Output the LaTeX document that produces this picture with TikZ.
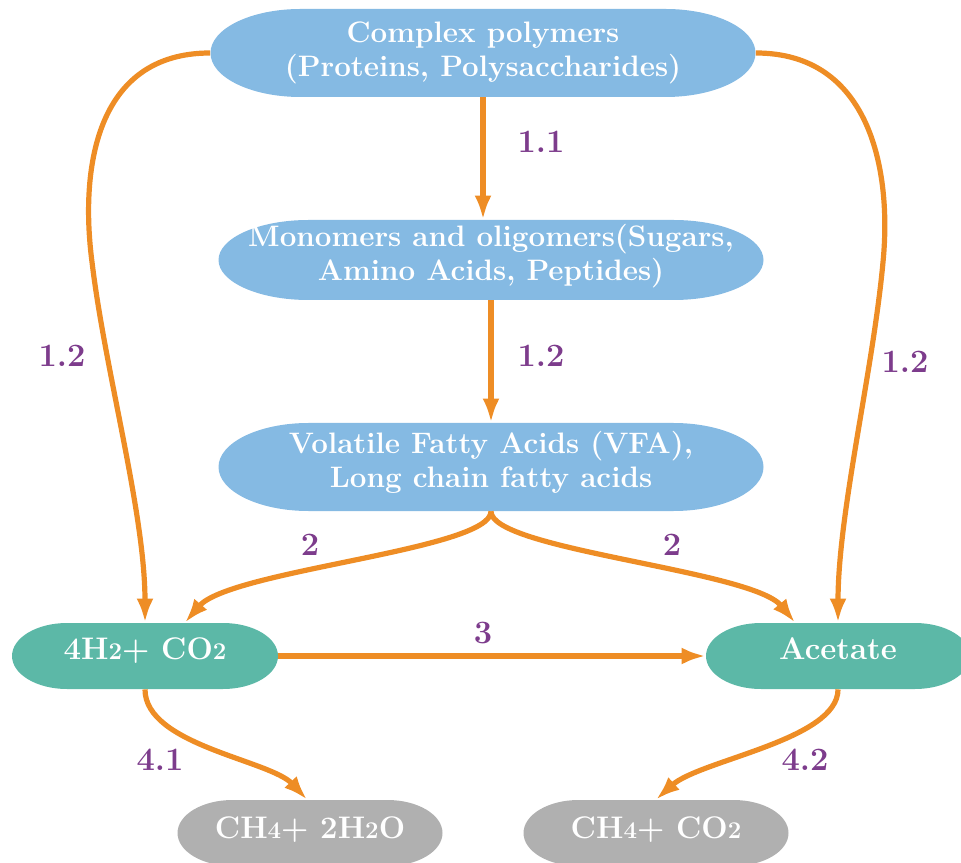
\documentclass[tikz,border=0pt]{standalone}
\usetikzlibrary{arrows.meta}
\definecolor{bluebox}{HTML}{85BAE3}
\definecolor{tealbox}{HTML}{5CB8A7}
\definecolor{greybox}{HTML}{B0B0B0}
\definecolor{arrowc}{HTML}{EE8D25}
\definecolor{labelc}{HTML}{7D3C8C}
\newcommand\pillshape[6]{%
  \fill[#6] (#1-#3+#5,#2-#4) -- (#1+#3-#5,#2-#4)
    arc[start angle=-90,end angle=90,x radius=#5,y radius=#4]
    -- (#1-#3+#5,#2+#4)
    arc[start angle=90,end angle=270,x radius=#5,y radius=#4] -- cycle;}
\newcommand\sm[1]{{\fontsize{12}{14}\selectfont #1}}
\newcommand\up[2]{\raisebox{#1}[\height][\depth]{\begin{tabular}{@{}c@{}}#2\end{tabular}}}
\begin{document}
\begin{tikzpicture}[x=0.5pt,y=0.5pt,
  boxtext/.style={rectangle,inner sep=0pt,align=center,text=white,
    font=\fontsize{14.8}{17.2}\selectfont\bfseries},
  smalltext/.style={boxtext,font=\fontsize{15.6}{18}\selectfont\bfseries},
  lbl/.style={text=labelc,font=\fontsize{16.3}{19}\selectfont\bfseries,inner sep=0pt},
  flow/.style={draw=arrowc,line width=2.6pt,-{Latex[length=12pt,width=8.5pt]}}]
\useasboundingbox (0,0) rectangle (961,862);
% shapes
\pillshape{483}{809}{272.5}{44}{90}{bluebox}
\pillshape{491}{602}{272.5}{40}{90}{bluebox}
\pillshape{491}{395}{272.5}{44}{90}{bluebox}
\pillshape{145}{206}{133}{33}{55}{tealbox}
\pillshape{838}{206}{132}{33}{55}{tealbox}
\pillshape{310}{29}{132.5}{33}{55}{greybox}
\pillshape{656}{29}{132.5}{33}{55}{greybox}
% nodes
\node[boxtext,minimum width=272.5pt,minimum height=44pt] (top) at (483,809)
  {\up{0.3pt}{Complex polymers\\(Proteins, Polysaccharides)}};
\node[boxtext,minimum width=272.5pt,minimum height=40pt] (mono) at (491,602)
  {\up{1.8pt}{Monomers and oligomers(Sugars,\\Amino Acids, Peptides)}};
\node[boxtext,minimum width=272.5pt,minimum height=44pt] (vfa) at (491,395)
  {\up{1.8pt}{Volatile Fatty Acids (VFA),\\Long chain fatty acids}};
\node[smalltext,minimum width=133pt,minimum height=33pt] (h2) at (145,206)
  {\up{2pt}{4H\sm{2}+ CO\sm{2}}};
\node[smalltext,minimum width=132pt,minimum height=33pt] (acet) at (838,206)
  {\up{2pt}{Acetate}};
\node[smalltext,minimum width=132.5pt,minimum height=33pt] (ch4a) at (310,29)
  {\up{1pt}{CH\sm{4}+ 2H\sm{2}O}};
\node[smalltext,minimum width=132.5pt,minimum height=33pt] (ch4b) at (656,29)
  {\up{1pt}{CH\sm{4}+ CO\sm{2}}};
% labels
\node[lbl] (l11) at (541,720) {1.1};
\node[lbl] (l12c) at (541,506) {1.2};
\node[lbl] (l12l) at (62,506) {1.2};
\node[lbl] (l12r) at (905,500) {1.2};
\node[lbl] (l2l) at (310,317) {2};
\node[lbl] (l2r) at (672,317) {2};
\node[lbl] (l3) at (483,229) {3};
\node[lbl] (l41) at (160,102) {4.1};
\node[lbl] (l42) at (805,102) {4.2};
% connectors
\draw[flow] (top.south) -- (top.south |- mono.north);
\draw[flow] (mono.south) -- (vfa.north);
\draw[flow] (top.west) .. controls (95,809) and (80,692) .. (92,600)
  .. controls (105,491) and (145,349) .. (h2.north);
\draw[flow] (top.east) .. controls (870,809) and (892,692) .. (883,600)
  .. controls (873,491) and (838,349) .. (acet.north);
\draw[flow] (vfa.south) .. controls (491,312) and (230,292) .. ([xshift=20pt]h2.north);
\draw[flow] (vfa.south) .. controls (491,312) and (752,292) .. ([xshift=-21.5pt]acet.north);
\draw[flow] (h2.east) -- (acet.west);
\draw[flow] (h2.south) .. controls (145,117) and (270,102) .. ([xshift=-1.5pt]ch4a.north);
\draw[flow] (acet.south) .. controls (838,122) and (700,102) .. (ch4b.north);
\end{tikzpicture}
\end{document}
